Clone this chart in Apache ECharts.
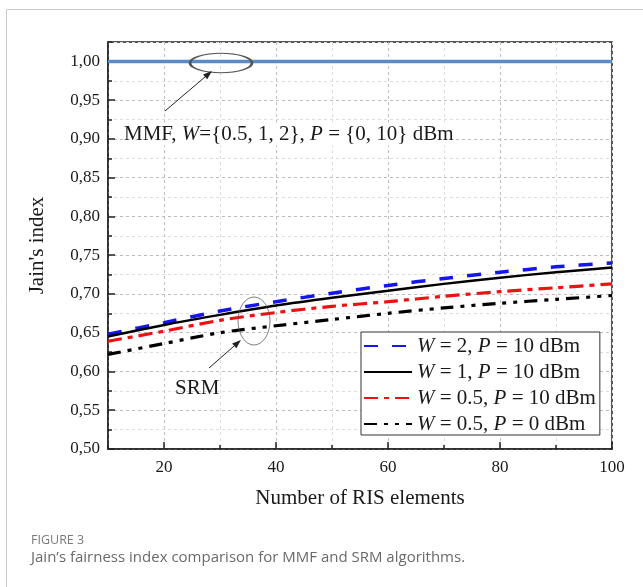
<!DOCTYPE html>
<html>
<head>
<meta charset="utf-8">
<script src="https://cdn.jsdelivr.net/npm/echarts@6/dist/echarts.min.js"></script>
<style>
  html, body { margin: 0; padding: 0; background: #fff; }
  #chart { width: 643px; height: 587px; }
</style>
</head>
<body>
<div id="chart"></div>
<script>
// Number of RIS elements (x axis samples)
const risElements = [10, 20, 30, 40, 50, 60, 70, 80, 90, 100];

// Jain's fairness index per algorithm / setting
const mmfAll    = [1.000, 1.000, 1.000, 1.000, 1.000, 1.000, 1.000, 1.000, 1.000, 1.000];
const srmW2P10  = [0.648, 0.663, 0.678, 0.690, 0.701, 0.711, 0.720, 0.728, 0.735, 0.740];
const srmW1P10  = [0.645, 0.660, 0.673, 0.685, 0.695, 0.704, 0.713, 0.721, 0.728, 0.734];
const srmW05P10 = [0.639, 0.652, 0.666, 0.676, 0.684, 0.690, 0.697, 0.703, 0.708, 0.713];
const srmW05P0  = [0.622, 0.636, 0.650, 0.659, 0.667, 0.675, 0.682, 0.688, 0.693, 0.698];

// Tick positions (major + minor) for both axes
const xTicks = [10, 20, 30, 40, 50, 60, 70, 80, 90, 100];
const xTickLabels = [20, 40, 60, 80, 100];
const yTicks = [0.500, 0.525, 0.550, 0.575, 0.600, 0.625, 0.650, 0.675, 0.700, 0.725, 0.750,
                0.775, 0.800, 0.825, 0.850, 0.875, 0.900, 0.925, 0.950, 0.975, 1.000, 1.025];
const yTickLabels = [0.50, 0.55, 0.60, 0.65, 0.70, 0.75, 0.80, 0.85, 0.90, 0.95, 1.00];

const SERIF = '"Liberation Serif", "Times New Roman", serif';
const INK = '#1a1a1a';

const pairs = (ys) => risElements.map((x, i) => [x, ys[i]]);

const legendRich = {
  'W = 2, P = 10 dBm':   '{i|W} = 2, {i|P} = 10 dBm',
  'W = 1, P = 10 dBm':   '{i|W} = 1, {i|P} = 10 dBm',
  'W = 0.5, P = 10 dBm': '{i|W} = 0.5, {i|P} = 10 dBm',
  'W = 0.5, P = 0 dBm':  '{i|W} = 0.5, {i|P} = 0 dBm'
};

const isMajorX = (i) => xTickLabels.indexOf(xTicks[i]) >= 0;
const isMajorY = (i) => yTickLabels.some(v => Math.abs(v - yTicks[i]) < 1e-9);
const xLabelOf = (v) => xTickLabels.some(t => Math.abs(t - v) < 1e-9) ? String(v) : '';
const yLabelOf = (v) => yTickLabels.some(t => Math.abs(t - v) < 1e-9)
  ? v.toFixed(2).replace('.', ',') : '';

// arrow = shaft + filled head pointing at (x2, y2)
function arrow(x1, y1, x2, y2) {
  const ang = Math.atan2(y2 - y1, x2 - x1);
  const L = 9, W = 3.2;
  const bx = x2 - L * Math.cos(ang), by = y2 - L * Math.sin(ang);
  const px = -Math.sin(ang) * W, py = Math.cos(ang) * W;
  return [
    { type: 'line', z: 120, shape: { x1: x1, y1: y1, x2: bx, y2: by },
      style: { stroke: '#222', lineWidth: 1 } },
    { type: 'polygon', z: 120,
      shape: { points: [[x2, y2], [bx + px, by + py], [bx - px, by - py]] },
      style: { fill: '#222' } }
  ];
}

function ellipse(cx, cy, rx, ry) {
  return { type: 'circle', z: 120, x: cx, y: cy, scaleX: rx / ry, scaleY: 1,
    shape: { cx: 0, cy: 0, r: ry },
    style: { fill: 'none', stroke: '#555', lineWidth: 0.9, strokeNoScale: true } };
}

const chart = echarts.init(document.getElementById('chart'), null, { renderer: 'canvas' });

chart.setOption({
  backgroundColor: '#ffffff',
  animation: false,
  textStyle: { fontFamily: SERIF },
  grid: { left: 108, top: 42, right: 31, bottom: 138, show: true,
          borderColor: '#222', borderWidth: 1.5, backgroundColor: 'transparent' },
  xAxis: [
    {
      type: 'value', min: 10, max: 100, interval: 10,
      name: 'Number of RIS elements', nameLocation: 'middle', nameGap: 39,
      nameTextStyle: { fontFamily: SERIF, fontSize: 21, color: INK },
      axisLine: { show: true, lineStyle: { color: '#222', width: 1.5 } },
      axisTick: { show: true, inside: true, length: 4, lineStyle: { color: '#222', width: 1.5 } },
      axisLabel: { show: true, margin: 10, fontFamily: SERIF, fontSize: 17, color: INK,
                   showMinLabel: true, showMaxLabel: true, hideOverlap: false,
                   formatter: xLabelOf },
      splitLine: { show: true, lineStyle: { color: '#dcdcdc', type: [3, 3], width: 1 } }
    },
    {
      type: 'category', gridIndex: 0, position: 'bottom', boundaryGap: false,
      data: xTicks.map(String),
      axisLine: { show: false },
      axisTick: { show: true, inside: true, length: 7, interval: (i) => isMajorX(i),
                  lineStyle: { color: '#222', width: 1.5 } },
      axisLabel: { show: false },
      splitLine: { show: true, interval: (i) => isMajorX(i) && i < xTicks.length - 1,
                   lineStyle: { color: '#bdbdbd', type: [3, 3], width: 1 } }
    }
  ],
  yAxis: [
    {
      type: 'value', min: 0.5, max: 1.025, interval: 0.025,
      name: "Jain's index", nameLocation: 'middle', nameGap: 60, nameRotate: 90,
      nameTextStyle: { fontFamily: SERIF, fontSize: 21, color: INK },
      axisLine: { show: true, lineStyle: { color: '#222', width: 1.5 } },
      axisTick: { show: true, inside: true, length: 4, lineStyle: { color: '#222', width: 1.5 } },
      axisLabel: { show: true, margin: 8, fontFamily: SERIF, fontSize: 17, color: INK,
                   showMinLabel: true, hideOverlap: false, formatter: yLabelOf },
      splitLine: { show: true, lineStyle: { color: '#dcdcdc', type: [3, 3], width: 1 } }
    },
    {
      type: 'category', gridIndex: 0, position: 'left', boundaryGap: false,
      data: yTicks.map(v => v.toFixed(3)),
      axisLine: { show: false },
      axisTick: { show: true, inside: true, length: 7, interval: (i) => isMajorY(i),
                  lineStyle: { color: '#222', width: 1.5 } },
      axisLabel: { show: false },
      splitLine: { show: true, interval: (i) => isMajorY(i) && i > 0,
                   lineStyle: { color: '#bdbdbd', type: [3, 3], width: 1 } }
    }
  ],
  legend: {
    data: Object.keys(legendRich),
    orient: 'vertical', align: 'left',
    left: 361, top: 332,
    padding: [3, 4, 0, 2],
    itemGap: 4, itemWidth: 48, itemHeight: 14,
    backgroundColor: '#ffffff', borderColor: '#333', borderWidth: 1, borderRadius: 0,
    itemStyle: { opacity: 0 },
    formatter: (name) => legendRich[name],
    textStyle: {
      fontFamily: SERIF, fontSize: 21, color: INK, lineHeight: 22,
      rich: { i: { fontFamily: SERIF, fontSize: 21, fontStyle: 'italic', color: INK, lineHeight: 22 } }
    }
  },
  series: [
    { name: 'MMF', type: 'line', data: pairs(mmfAll), symbol: 'none', z: 5,
      lineStyle: { color: '#5b8bc7', width: 3.5 } },
    { name: 'W = 2, P = 10 dBm', type: 'line', data: pairs(srmW2P10), symbol: 'none', smooth: 0.3,
      itemStyle: { color: '#1515ee' },
      lineStyle: { color: '#1515ee', width: 3.5, type: [14, 14] } },
    { name: 'W = 1, P = 10 dBm', type: 'line', data: pairs(srmW1P10), symbol: 'none', smooth: 0.3,
      itemStyle: { color: '#000000' },
      lineStyle: { color: '#000000', width: 2.5, type: 'solid' } },
    { name: 'W = 0.5, P = 10 dBm', type: 'line', data: pairs(srmW05P10), symbol: 'none', smooth: 0.3,
      itemStyle: { color: '#ee1111' },
      lineStyle: { color: '#ee1111', width: 3.2, type: [14, 6, 5, 6] } },
    { name: 'W = 0.5, P = 0 dBm', type: 'line', data: pairs(srmW05P0), symbol: 'none', smooth: 0.3,
      itemStyle: { color: '#000000' },
      lineStyle: { color: '#000000', width: 3.2, type: [13, 7, 4, 7, 4, 7] } }
  ],
  graphic: [].concat(
    [
      // page frame
      { type: 'line', shape: { x1: 6.5, y1: 9.5, x2: 643, y2: 9.5 }, style: { stroke: '#cccccc', lineWidth: 1 } },
      { type: 'line', shape: { x1: 6.5, y1: 9.5, x2: 6.5, y2: 587 }, style: { stroke: '#cccccc', lineWidth: 1 } },
      // annotations
      { type: 'text', z: 110, x: 123, y: 134,
        style: { text: 'MMF, {i|W}={0.5, 1, 2}, {i|P} = {0, 10} dBm',
                 font: '21px "Liberation Serif"', fill: INK, verticalAlign: 'middle',
                 backgroundColor: '#ffffff', padding: [1, 1, 1, 1],
                 rich: { i: { fontFamily: SERIF, fontSize: 21, fontStyle: 'italic', fill: INK } } } },
      { type: 'text', z: 110, x: 175, y: 388,
        style: { text: 'SRM', font: '21px "Liberation Serif"', fill: INK, verticalAlign: 'middle' } },
      ellipse(221, 63, 31, 9.7),
      ellipse(254, 321, 16, 24),
      // caption
      { type: 'text', x: 31, y: 540,
        style: { text: 'FIGURE 3', font: '12.5px "Open Sans", sans-serif', fill: '#7a7a7a', verticalAlign: 'middle' } },
      { type: 'text', x: 31, y: 558,
        style: { text: 'Jain\u2019s fairness index comparison for MMF and SRM algorithms.',
                 font: '15px "Open Sans", sans-serif', fill: '#6a6a6a', verticalAlign: 'middle' } }
    ],
    arrow(165, 111, 212, 71),
    arrow(209, 368, 241, 340)
  )
});
</script>
</body>
</html>
